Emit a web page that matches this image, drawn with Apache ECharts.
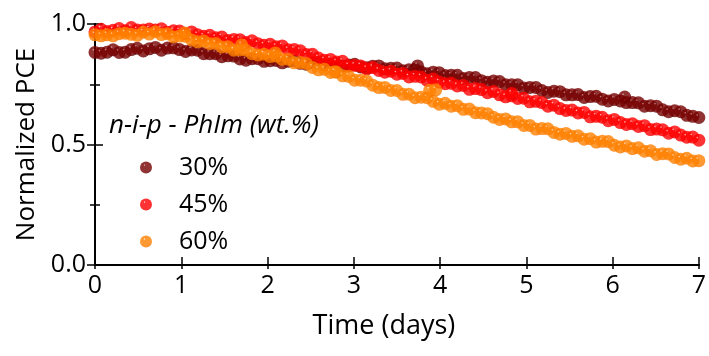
<!DOCTYPE html>
<html>
<head>
<meta charset="utf-8">
<script src="https://cdn.jsdelivr.net/npm/echarts@6/dist/echarts.min.js"></script>
<style>html,body{margin:0;padding:0;background:#fff;}#c{width:709px;height:356px;}</style>
</head>
<body>
<div id="c"></div>
<script>
var timeDays = [0.00,0.07,0.14,0.21,0.28,0.35,0.42,0.49,0.56,0.63,0.70,0.77,0.84,0.91,0.98,1.05,1.12,1.19,1.26,1.33,1.40,1.47,1.54,1.61,1.68,1.75,1.82,1.89,1.96,2.03,2.10,2.17,2.24,2.31,2.38,2.45,2.52,2.59,2.66,2.73,2.80,2.87,2.94,3.01,3.08,3.15,3.22,3.29,3.36,3.43,3.50,3.57,3.64,3.71,3.78,3.85,3.92,3.99,4.06,4.13,4.20,4.27,4.34,4.41,4.48,4.55,4.62,4.69,4.76,4.83,4.90,4.97,5.04,5.11,5.18,5.25,5.32,5.39,5.46,5.53,5.60,5.67,5.74,5.81,5.88,5.95,6.02,6.09,6.16,6.23,6.30,6.37,6.44,6.51,6.58,6.65,6.72,6.79,6.86,6.93,7.00];

var pce30 = [0.882,0.879,0.883,0.893,0.882,0.883,0.894,0.899,0.888,0.897,
  0.903,0.891,0.900,0.901,0.894,0.886,0.892,0.891,0.877,0.877,
  0.877,0.864,0.868,0.867,0.855,0.850,0.856,0.856,0.845,0.848,
  0.849,0.839,0.845,0.847,0.837,0.833,0.839,0.840,0.830,0.832,
  0.835,0.825,0.830,0.833,0.822,0.818,0.825,0.826,0.814,0.816,
  0.817,0.806,0.810,0.812,0.801,0.794,0.800,0.798,0.786,0.787,
  0.787,0.774,0.778,0.778,0.765,0.758,0.763,0.761,0.748,0.748,
  0.748,0.734,0.737,0.737,0.724,0.716,0.721,0.719,0.706,0.706,
  0.707,0.695,0.699,0.700,0.688,0.681,0.687,0.681,0.674,0.674,
  0.673,0.659,0.661,0.659,0.644,0.636,0.640,0.636,0.621,0.617,
  0.612];
var outliers30 = [[3.74, 0.826], [6.14, 0.697]];

var pce45 = [0.967,0.978,0.969,0.974,0.981,0.972,0.985,0.975,0.975,0.979,
  0.975,0.980,0.966,0.972,0.971,0.960,0.967,0.955,0.949,0.953,
  0.943,0.946,0.932,0.936,0.935,0.923,0.930,0.918,0.912,0.916,
  0.906,0.909,0.893,0.894,0.889,0.873,0.875,0.859,0.850,0.853,
  0.842,0.845,0.826,0.828,0.826,0.814,0.819,0.807,0.800,0.804,
  0.792,0.795,0.780,0.783,0.780,0.766,0.772,0.759,0.752,0.754,
  0.743,0.745,0.729,0.732,0.728,0.715,0.720,0.706,0.698,0.702,
  0.691,0.692,0.677,0.679,0.674,0.659,0.663,0.649,0.641,0.643,
  0.631,0.633,0.615,0.617,0.613,0.599,0.604,0.591,0.583,0.586,
  0.575,0.578,0.562,0.564,0.561,0.547,0.552,0.539,0.530,0.531,
  0.518];
var outliers45 = [[4.83, 0.712]];

var pce60 = [0.955,0.951,0.955,0.951,0.960,0.962,0.957,0.953,0.966,0.958,
  0.968,0.956,0.960,0.946,0.950,0.949,0.934,0.926,0.929,0.918,
  0.919,0.905,0.906,0.891,0.893,0.891,0.877,0.871,0.875,0.865,
  0.867,0.853,0.854,0.839,0.840,0.836,0.820,0.810,0.812,0.799,
  0.800,0.785,0.783,0.767,0.767,0.763,0.746,0.736,0.737,0.724,
  0.724,0.708,0.709,0.694,0.696,0.694,0.679,0.667,0.671,0.659,
  0.661,0.646,0.647,0.632,0.631,0.628,0.613,0.604,0.606,0.594,
  0.594,0.579,0.579,0.564,0.566,0.565,0.550,0.543,0.546,0.534,
  0.536,0.522,0.524,0.510,0.513,0.512,0.497,0.490,0.494,0.483,
  0.486,0.472,0.474,0.459,0.462,0.461,0.446,0.439,0.443,0.432,
  0.433];
var outliers60 = [[1.04, 0.963], [1.70, 0.913], [2.09, 0.880], [2.78, 0.802], [3.88, 0.725], [3.95, 0.727]];

var seriesNames = ['30%', '45%', '60%'];
var legendTitle = 'n-i-p - PhIm (wt.%)';

function pairs(ys, extra) {
  return timeDays.map(function (t, i) { return [t, ys[i]]; }).concat(extra);
}
function ball(hi, base, edge) {
  return { type: 'radial', x: 0.38, y: 0.3, r: 0.7,
    colorStops: [{ offset: 0, color: hi }, { offset: 0.14, color: base }, { offset: 0.88, color: base }, { offset: 1, color: edge }] };
}
var colors = [
  ball('#d8a0a0', '#760000', '#5a0000'),
  ball('#ffe0e0', '#ff0000', '#e40000'),
  ball('#ffe8d0', '#ff8000', '#f27400')
];
var dataSets = [[pce30, outliers30], [pce45, outliers45], [pce60, outliers60]];
var FONT = '"Open Sans"';

var chart = echarts.init(document.getElementById('c'), null, { renderer: 'canvas' });
var axisLine = { show: true, lineStyle: { color: '#000', width: 1.8 } };
chart.setOption({
  animation: false,
  backgroundColor: '#fff',
  grid: { left: 95, right: 10, top: 24, bottom: 91 },
  legend: {
    orient: 'vertical', left: 140, top: 155, padding: 0,
    itemWidth: 12, itemHeight: 12, itemGap: 12,
    icon: 'circle',
    textStyle: { fontFamily: FONT, fontSize: 25, color: '#000', lineHeight: 25, padding: [0, 0, 0, 22] },
    data: seriesNames
  },
  graphic: [{
    type: 'text', left: 109, top: 113,
    style: { text: legendTitle, font: 'italic 26px "Open Sans"', fill: '#000' }
  }],
  xAxis: [{
    type: 'value', min: 0, max: 7, interval: 1, position: 'bottom',
    name: 'Time (days)', nameLocation: 'middle', nameGap: 48,
    nameTextStyle: { fontFamily: FONT, fontSize: 27, color: '#000', padding: [0, 26, 0, 0] },
    axisLine: axisLine,
    axisTick: { inside: true, length: 8, lineStyle: { color: '#000', width: 1.5 } },
    axisLabel: { fontFamily: FONT, fontSize: 25, color: '#000', margin: 8 },
    splitLine: { show: false }
  }, {
    type: 'value', min: 0, max: 7, interval: 1, position: 'top',
    axisLine: axisLine,
    axisTick: { inside: true, length: 4, lineStyle: { color: '#000', width: 1.5 } },
    axisLabel: { show: false }, splitLine: { show: false }
  }],
  yAxis: [{
    type: 'value', min: 0, max: 1, interval: 0.5, position: 'left',
    name: 'Normalized PCE', nameLocation: 'middle', nameGap: 55,
    nameTextStyle: { fontFamily: FONT, fontSize: 26, color: '#000' },
    axisLine: axisLine,
    axisTick: { inside: true, length: 8, lineStyle: { color: '#000', width: 1.5 } },
    minorTick: { show: true, splitNumber: 2, length: 5, lineStyle: { color: '#000', width: 1.5 } },
    axisLabel: { fontFamily: FONT, fontSize: 25, color: '#000', margin: 9,
      formatter: function (v) { return v.toFixed(1); } },
    splitLine: { show: false }
  }, {
    type: 'value', min: 0, max: 1, interval: 0.5, position: 'right',
    axisLine: axisLine,
    axisTick: { inside: true, length: 8, lineStyle: { color: '#000', width: 1.5 } },
    minorTick: { show: true, splitNumber: 2, length: 5, lineStyle: { color: '#000', width: 1.5 } },
    axisLabel: { show: false }, splitLine: { show: false }
  }],
  series: dataSets.map(function (d, k) {
    return {
      type: 'scatter', name: seriesNames[k], xAxisIndex: 0, yAxisIndex: 0,
      symbol: 'circle', symbolSize: 13,
      itemStyle: { color: colors[k] },
      data: pairs(d[0], d[1]), z: 2 + k
    };
  })
});
</script>
</body>
</html>
